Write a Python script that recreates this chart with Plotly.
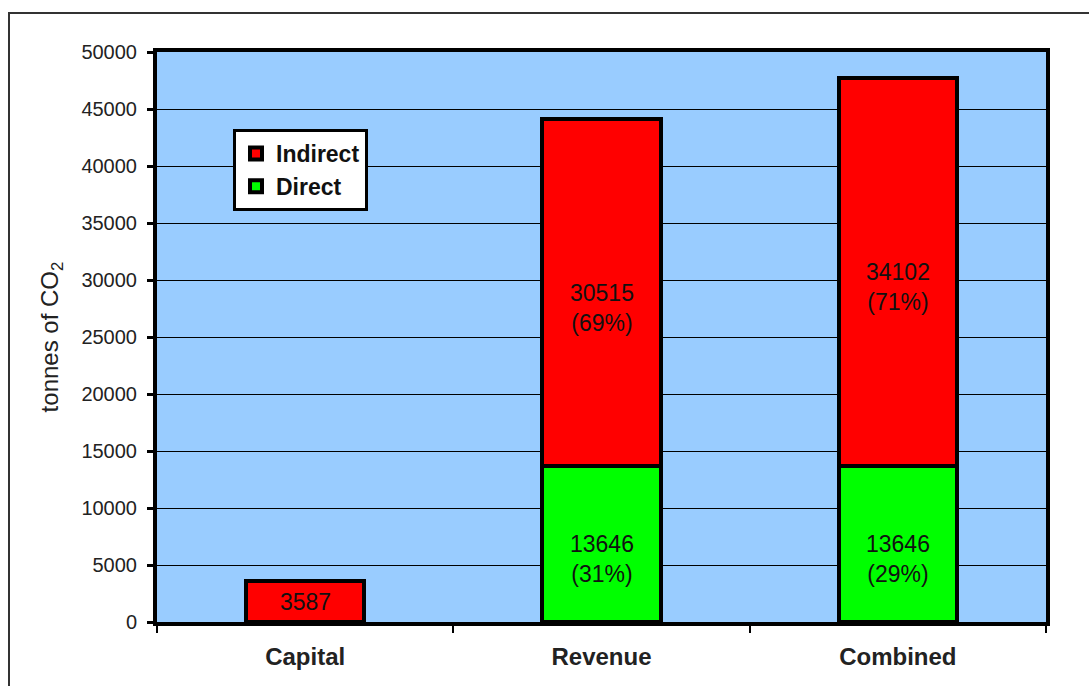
import plotly.graph_objects as go

categories = ["Capital", "Revenue", "Combined"]
direct = [None, 13646, 13646]
indirect = [3587, 30515, 34102]
y_ticks = [0, 5000, 10000, 15000, 20000, 25000, 30000, 35000, 40000, 45000, 50000]

FONT = "Arial, Liberation Sans, sans-serif"
LABEL_SIZE = 23


def present(values):
    xs = [c for c, v in zip(categories, values) if v is not None]
    ys = [v for v in values if v is not None]
    return xs, ys


fig = go.Figure()
dx, dy = present(direct)
fig.add_trace(go.Bar(
    name="Direct", x=dx, y=dy,
    marker=dict(color="#00FF00", line=dict(color="black", width=4)),
    width=0.4,
))
ix, iy = present(indirect)
fig.add_trace(go.Bar(
    name="Indirect", x=ix, y=iy,
    marker=dict(color="#FF0000", line=dict(color="black", width=4)),
    width=0.4,
))

# value labels: amount on the segment's centre line, share of the total below it
for cat, d, i in zip(categories, direct, indirect):
    base = 0
    for v, other in ((d, i), (i, d)):
        if v is None:
            continue
        mid = base + v / 2
        if other is None:
            fig.add_annotation(x=cat, y=mid, text=f"{v}", showarrow=False,
                               yanchor="middle",
                               font=dict(family=FONT, size=LABEL_SIZE, color="#111"))
        else:
            pct = round(100 * v / (v + other))
            fig.add_annotation(x=cat, y=mid, text=f"{v}<br>({pct}%)",
                               showarrow=False, yanchor="top",
                               yshift=LABEL_SIZE * 0.65,
                               font=dict(family=FONT, size=LABEL_SIZE, color="#111"))
        base += v

# outer frame around the whole chart
fig.add_shape(type="rect", xref="paper", yref="paper",
              x0=(9 - 157) / 889, x1=(1100 - 157) / 889,
              y0=(622 - 700) / 570, y1=(622 - 13) / 570,
              line=dict(color="#333", width=2), fillcolor="rgba(0,0,0,0)",
              layer="below")

fig.update_layout(
    width=1089, height=686,
    margin=dict(l=157, r=43, t=52, b=64),
    barmode="stack",
    paper_bgcolor="white",
    plot_bgcolor="#99CCFF",
    font=dict(family=FONT, size=20, color="#222"),
    showlegend=True,
    legend=dict(
        x=(233 - 157) / 889, y=(622 - 129) / 570,
        xanchor="left", yanchor="top",
        bgcolor="white", bordercolor="black", borderwidth=3,
        font=dict(family=FONT, size=23, color="#111", weight="bold"),
        traceorder="reversed",
    ),
    xaxis=dict(
        type="category", categoryorder="array", categoryarray=categories,
        tickson="boundaries",
        ticks="outside", ticklen=7, tickwidth=2, tickcolor="black",
        ticklabelstandoff=10,
        showline=True, linecolor="black", linewidth=4, mirror=True,
        showgrid=False,
        tickfont=dict(family=FONT, size=24, color="#222", weight="bold"),
        range=[-0.5, 2.5],
    ),
    yaxis=dict(
        range=[0, 50000], tickvals=y_ticks, tickformat="d",
        ticks="outside", ticklen=6, tickwidth=3, tickcolor="black",
        ticklabelstandoff=6,
        showline=True, linecolor="black", linewidth=4, mirror=True,
        showgrid=True, gridcolor="black", gridwidth=1,
        zeroline=False,
        tickfont=dict(family=FONT, size=20, color="#222"),
        title=dict(text="tonnes of CO<sub>2</sub>", standoff=17,
                   font=dict(family=FONT, size=24, color="#222")),
    ),
)

fig.write_html("out.html")
